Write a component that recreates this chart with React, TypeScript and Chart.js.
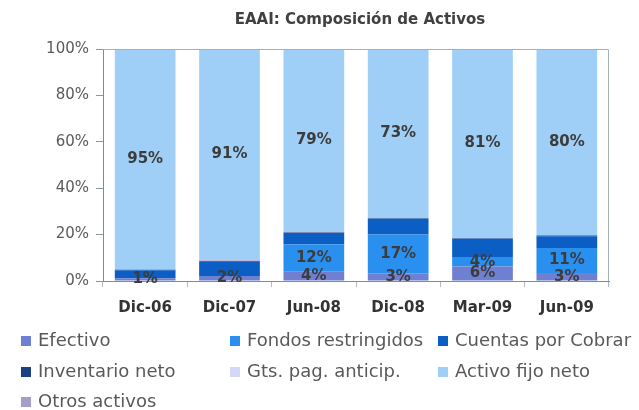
import { useEffect, useRef } from "react";
import { Chart, registerables } from "chart.js";

Chart.register(...registerables);

const categories = ["Dic-06", "Dic-07", "Jun-08", "Dic-08", "Mar-09", "Jun-09"];
const efectivo = [1.2, 2.2, 4.0, 3.3, 6.2, 3.4];
const fondosRestringidos = [0, 0, 11.8, 16.7, 4.1, 10.8];
const cuentasPorCobrar = [3.4, 6.0, 4.9, 6.8, 7.9, 5.1];
const inventarioNeto = [0.2, 0.3, 0.2, 0.2, 0.2, 0.3];
const gtsPagAnticip = [0.1, 0.2, 0.1, 0.1, 0.1, 0.1];
const otrosActivos = [0.1, 0.3, 0.1, 0, 0.1, 0.1];
const activoFijoNeto = [95.0, 91.0, 78.9, 72.9, 81.4, 80.2];
const yTickValues = [0, 20, 40, 60, 80, 100];

const titleText = "EAAI: Composición de Activos";
const FONT = "'DejaVu Sans', sans-serif";

// stacking order (bottom to top)
const series = [
  { label: "Efectivo", data: efectivo, color: "#6f80d2", showLabel: true },
  { label: "Fondos restringidos", data: fondosRestringidos, color: "#2a90f0", showLabel: true },
  { label: "Cuentas por Cobrar", data: cuentasPorCobrar, color: "#0b5ec4", showLabel: false },
  { label: "Inventario neto", data: inventarioNeto, color: "#1c4182", showLabel: false },
  { label: "Gts. pag. anticip.", data: gtsPagAnticip, color: "#e0b8ee", showLabel: false },
  { label: "Otros activos", data: otrosActivos, color: "#a39dc8", showLabel: false },
  { label: "Activo fijo neto", data: activoFijoNeto, color: "#9fcff6", showLabel: true },
];
const legendOrder = [
  "Efectivo",
  "Fondos restringidos",
  "Cuentas por Cobrar",
  "Inventario neto",
  "Gts. pag. anticip.",
  "Activo fijo neto",
  "Otros activos",
];
const legendColors: Record<string, string> = {
  "Gts. pag. anticip.": "#d3d7f8",
};

const overlayPlugin = {
  id: "overlay",
  afterDatasetsDraw(chart: any) {
    const ctx = chart.ctx;
    const area = chart.chartArea;
    ctx.save();
    // frame top / right
    ctx.strokeStyle = "#a7b0b9";
    ctx.lineWidth = 1;
    ctx.beginPath();
    ctx.moveTo(area.left, area.top + 0.5);
    ctx.lineTo(area.right - 0.5, area.top + 0.5);
    ctx.lineTo(area.right - 0.5, area.bottom);
    ctx.stroke();

    // data labels
    ctx.font = `bold 15px ${FONT}`;
    ctx.fillStyle = "#3c3c3c";
    ctx.textAlign = "center";
    ctx.textBaseline = "middle";
    chart.data.datasets.forEach((ds: any, di: number) => {
      if (!series[di].showLabel) return;
      const meta = chart.getDatasetMeta(di);
      meta.data.forEach((bar: any, i: number) => {
        const v = ds.data[i];
        if (v < 0.5) return;
        const cy = (bar.y + bar.base) / 2;
        ctx.fillText(Math.round(v) + "%", bar.x, cy);
      });
    });

    // title
    ctx.font = `bold 15px ${FONT}`;
    ctx.fillStyle = "#404040";
    ctx.fillText(titleText, (area.left + area.right) / 2 + 4, 20);

    // legend
    const colX = [21, 230, 438];
    const rowY = [341, 372, 402];
    ctx.font = `18px ${FONT}`;
    ctx.textAlign = "left";
    legendOrder.forEach((name, k) => {
      const s = series.find((q) => q.label === name)!;
      const x = colX[k % 3];
      const y = rowY[Math.floor(k / 3)];
      ctx.fillStyle = legendColors[name] || s.color;
      ctx.fillRect(x, y - 5, 10, 10);
      ctx.fillStyle = "#595959";
      ctx.fillText(name, x + 17, y);
    });
    ctx.restore();
  },
};

export default function App() {
  const ref = useRef<HTMLCanvasElement | null>(null);
  useEffect(() => {
    if (!ref.current) return;
    const chart = new Chart(ref.current, {
      type: "bar",
      data: {
        labels: categories,
        datasets: series.map((s) => ({
          label: s.label,
          data: s.data,
          backgroundColor: s.color,
          borderWidth: 0,
          categoryPercentage: 1,
          barPercentage: 0.72,
        })),
      },
      options: {
        responsive: false,
        animation: false,
        devicePixelRatio: 1,
        layout: { padding: { left: 0, right: 30, top: 49, bottom: 79 } },
        plugins: {
          legend: { display: false },
          title: { display: false },
          tooltip: { enabled: false },
        },
        scales: {
          x: {
            stacked: true,
            grid: {
              offset: true,
              drawOnChartArea: false,
              drawTicks: true,
              tickLength: 6,
              color: "#b5bcc4",
            },
            border: { color: "#7f8b97" },
            ticks: {
              font: { family: FONT, size: 15, weight: "bold" },
              color: "#333333",
              padding: 12,
            },
            afterFit(scale: any) {
              scale.height = 50;
            },
          },
          y: {
            stacked: true,
            min: 0,
            max: 100,
            afterBuildTicks(scale: any) {
              scale.ticks = yTickValues.map((v) => ({ value: v }));
            },
            grid: {
              drawOnChartArea: false,
              drawTicks: true,
              tickLength: 7,
              color: "#8a97a3",
            },
            border: { color: "#7f8b97" },
            ticks: {
              font: { family: FONT, size: 15 },
              color: "#5a5a5a",
              padding: 7,
              callback: (v: any) => v + "%",
            },
            afterFit(scale: any) {
              scale.width = 103;
            },
          },
        },
      },
      plugins: [overlayPlugin],
    });
    return () => chart.destroy();
  }, []);
  return (
    <div style={{ position: "absolute", left: 0, top: 0, width: 639, height: 410, background: "#fff" }}>
      <canvas ref={ref} width={639} height={410} />
    </div>
  );
}
